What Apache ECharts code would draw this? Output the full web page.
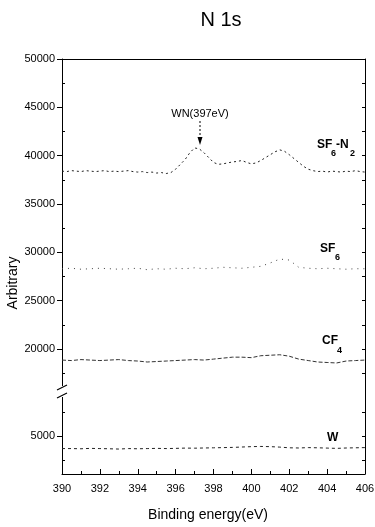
<!DOCTYPE html>
<html>
<head>
<meta charset="utf-8">
<script src="https://cdn.jsdelivr.net/npm/echarts@6/dist/echarts.min.js"></script>
<style>
html,body{margin:0;padding:0;background:#fff;}
#c{width:375px;height:527px;}
</style>
</head>
<body>
<div id="c"></div>
<script>
// ---- data ----
var energyFine = [390,390.25,390.5,390.75,391,391.25,391.5,391.75,392,392.25,392.5,392.75,393,393.25,393.5,393.75,394,394.25,394.5,394.75,395,395.25,395.5,395.75,396,396.25,396.5,396.75,397,397.25,397.5,397.75,398,398.25,398.5,398.75,399,399.25,399.5,399.75,400,400.25,400.5,400.75,401,401.25,401.5,401.75,402,402.25,402.5,402.75,403,403.25,403.5,403.75,404,404.25,404.5,404.75,405,405.25,405.5,405.75,406];
var sf6n2 = [38400,38350,38450,38400,38350,38450,38400,38350,38400,38450,38350,38400,38350,38400,38450,38350,38300,38350,38250,38300,38200,38250,38150,38250,38600,39100,39600,40300,40800,40700,40300,39800,39300,39100,39150,39250,39350,39400,39500,39300,39150,39250,39500,39800,40100,40400,40600,40450,40100,39700,39300,38900,38600,38450,38350,38400,38300,38400,38350,38300,38400,38350,38450,38350,38300];

var energyCoarse = [390,390.5,391,391.5,392,392.5,393,393.5,394,394.5,395,395.5,396,396.5,397,397.5,398,398.5,399,399.5,400,400.5,401,401.5,402,402.5,403,403.5,404,404.5,405,405.5,406];
var sf6 = [28300,28350,28250,28300,28350,28300,28250,28300,28350,28200,28300,28250,28350,28300,28400,28300,28350,28450,28400,28350,28450,28550,28900,29300,29200,28450,28350,28300,28350,28300,28250,28300,28300];
var cf4 = [18850,18800,18900,18850,18800,18850,18900,18800,18750,18650,18700,18750,18800,18850,18900,18850,18950,19050,19150,19150,19100,19300,19350,19400,19250,18950,18800,18650,18600,18550,18750,18800,18850];
var w = [3700,3700,3680,3720,3700,3680,3650,3700,3680,3700,3720,3700,3720,3750,3740,3760,3780,3800,3820,3860,3900,3920,3900,3850,3780,3760,3800,3780,3750,3720,3760,3780,3800];

var upperMajorTicks = [20000,25000,30000,35000,40000,45000,50000];
var upperMinorTicks = [17500,22500,27500,32500,37500,42500,47500];
var lowerMajorTicks = [5000];
var lowerMinorTicks = [2500,7500];
var xTickLabels = ['390','392','394','396','398','400','402','404','406'];

function pairs(xs, ys){ return xs.map(function(x,i){ return [x, ys[i]]; }); }
function plain(v){ return String(v); }

var FONT = 'Liberation Sans, Arial, sans-serif';
var chart = echarts.init(document.getElementById('c'), null, {renderer:'canvas'});

var upper = {left:62, top:59, width:303, height:332, outerBoundsMode:'none', containLabel:false};
var lower = {left:62, top:391, width:303, height:83, outerBoundsMode:'none', containLabel:false};
function cp(o){ return Object.assign({}, o); }

var lineAx = {show:true, lineStyle:{color:'#000', width:1}};
var xBase = {type:'value', min:390, max:406, interval:2};

var option = {
  animation:false,
  backgroundColor:'#fff',
  grid:[cp(upper), cp(upper), cp(lower), cp(lower)],
  xAxis:[
    Object.assign({}, xBase, {gridIndex:0, position:'bottom', show:false}),
    Object.assign({}, xBase, {gridIndex:0, position:'top', axisLine:lineAx, axisTick:{show:false}, axisLabel:{show:false}, splitLine:{show:false}}),
    Object.assign({}, xBase, {gridIndex:1, position:'bottom', show:false}),
    Object.assign({}, xBase, {gridIndex:2, position:'bottom', axisLine:lineAx,
      axisTick:{show:true, inside:true, length:5, lineStyle:{color:'#000'}},
      minorTick:{show:true, splitNumber:2, length:3, lineStyle:{color:'#000'}},
      axisLabel:{color:'#000', fontSize:11, fontFamily:FONT, margin:9,
        formatter:function(v){ var s=String(v); return xTickLabels.indexOf(s)>=0 ? s : ''; }},
      splitLine:{show:false}, minorSplitLine:{show:false}}),
    Object.assign({}, xBase, {gridIndex:3, position:'bottom', show:false})
  ],
  yAxis:[
    {type:'value', gridIndex:0, position:'left', min:15650, max:50000,
      axisLine:lineAx,
      axisTick:{show:true, inside:false, length:5, customValues:upperMajorTicks, lineStyle:{color:'#000'}},
      axisLabel:{color:'#000', fontSize:11, fontFamily:FONT, margin:7, customValues:upperMajorTicks, formatter:plain},
      splitLine:{show:false}},
    {type:'value', gridIndex:0, position:'right', min:15650, max:50000,
      axisLine:lineAx,
      axisTick:{show:true, inside:true, length:3, customValues:upperMajorTicks.concat(upperMinorTicks), lineStyle:{color:'#000'}},
      axisLabel:{show:false}, splitLine:{show:false}},
    {type:'value', gridIndex:1, position:'left', min:15650, max:50000,
      axisLine:{show:false},
      axisTick:{show:true, inside:true, length:3, customValues:upperMinorTicks, lineStyle:{color:'#000'}},
      axisLabel:{show:false}, splitLine:{show:false}},
    {type:'value', gridIndex:2, position:'left', min:1070, max:9655,
      axisLine:lineAx,
      axisTick:{show:true, inside:false, length:5, customValues:lowerMajorTicks, lineStyle:{color:'#000'}},
      axisLabel:{color:'#000', fontSize:11, fontFamily:FONT, margin:7, customValues:lowerMajorTicks, formatter:plain},
      splitLine:{show:false}},
    {type:'value', gridIndex:2, position:'right', min:1070, max:9655,
      axisLine:lineAx,
      axisTick:{show:true, inside:true, length:3, customValues:lowerMajorTicks.concat(lowerMinorTicks), lineStyle:{color:'#000'}},
      axisLabel:{show:false}, splitLine:{show:false}},
    {type:'value', gridIndex:3, position:'left', min:1070, max:9655,
      axisLine:{show:false},
      axisTick:{show:true, inside:true, length:3, customValues:lowerMinorTicks, lineStyle:{color:'#000'}},
      axisLabel:{show:false}, splitLine:{show:false}}
  ],
  series:[
    {name:'SF6-N2', type:'line', xAxisIndex:0, yAxisIndex:0, symbol:'none', data:pairs(energyFine, sf6n2),
      lineStyle:{color:'#222', width:1, type:[2,3]}},
    {name:'SF6', type:'line', xAxisIndex:0, yAxisIndex:0, symbol:'none', data:pairs(energyCoarse, sf6),
      lineStyle:{color:'#444', width:1, type:[1,5]}},
    {name:'CF4', type:'line', xAxisIndex:0, yAxisIndex:0, symbol:'none', data:pairs(energyCoarse, cf4),
      lineStyle:{color:'#333', width:1, type:[4,2]}},
    {name:'W', type:'line', xAxisIndex:3, yAxisIndex:3, symbol:'none', data:pairs(energyCoarse, w),
      lineStyle:{color:'#222', width:1, type:[3,3]}}
  ],
  graphic:[
    {type:'text', x:221, y:20, style:{text:'N 1s', align:'center', verticalAlign:'middle', fontSize:20, fontFamily:FONT, fill:'#000'}},
    {type:'text', rotation:Math.PI/2, x:13, y:283, style:{text:'Arbitrary', align:'center', verticalAlign:'middle', fontSize:14, fontFamily:FONT, fill:'#000'}},
    {type:'text', x:208, y:515, style:{text:'Binding energy(eV)', align:'center', verticalAlign:'middle', fontSize:14, fontFamily:FONT, fill:'#000'}},
    // axis break
    {type:'rect', shape:{x:58, y:386, width:8, height:11}, style:{fill:'#fff'}, z:100},
    {type:'line', shape:{x1:57, y1:390, x2:67, y2:385}, style:{stroke:'#000', lineWidth:1.2}, z:101},
    {type:'line', shape:{x1:57, y1:398, x2:67, y2:393}, style:{stroke:'#000', lineWidth:1.2}, z:101},
    // WN annotation
    {type:'text', x:200, y:114, style:{text:'WN(397eV)', align:'center', verticalAlign:'middle', fontSize:11, fontFamily:FONT, fill:'#000'}},
    {type:'line', shape:{x1:200, y1:121, x2:200, y2:137}, style:{stroke:'#000', lineWidth:1, lineDash:[2,2]}},
    {type:'polygon', shape:{points:[[197.5,137],[202.5,137],[200,145]]}, style:{fill:'#000'}},
    // series labels
    {type:'text', x:317, y:145, style:{text:'SF', verticalAlign:'middle', fontSize:12, fontWeight:'bold', fontFamily:FONT, fill:'#000'}},
    {type:'text', x:331, y:154, style:{text:'6', verticalAlign:'middle', fontSize:9, fontWeight:'bold', fontFamily:FONT, fill:'#000'}},
    {type:'text', x:336, y:145, style:{text:'-N', verticalAlign:'middle', fontSize:12, fontWeight:'bold', fontFamily:FONT, fill:'#000'}},
    {type:'text', x:350, y:154, style:{text:'2', verticalAlign:'middle', fontSize:9, fontWeight:'bold', fontFamily:FONT, fill:'#000'}},
    {type:'text', x:320, y:249, style:{text:'SF', verticalAlign:'middle', fontSize:12, fontWeight:'bold', fontFamily:FONT, fill:'#000'}},
    {type:'text', x:335, y:258, style:{text:'6', verticalAlign:'middle', fontSize:9, fontWeight:'bold', fontFamily:FONT, fill:'#000'}},
    {type:'text', x:322, y:341, style:{text:'CF', verticalAlign:'middle', fontSize:12, fontWeight:'bold', fontFamily:FONT, fill:'#000'}},
    {type:'text', x:337, y:351, style:{text:'4', verticalAlign:'middle', fontSize:9, fontWeight:'bold', fontFamily:FONT, fill:'#000'}},
    {type:'text', x:327, y:438, style:{text:'W', verticalAlign:'middle', fontSize:12, fontWeight:'bold', fontFamily:FONT, fill:'#000'}}
  ]
};
chart.setOption(option);
</script>
</body>
</html>
